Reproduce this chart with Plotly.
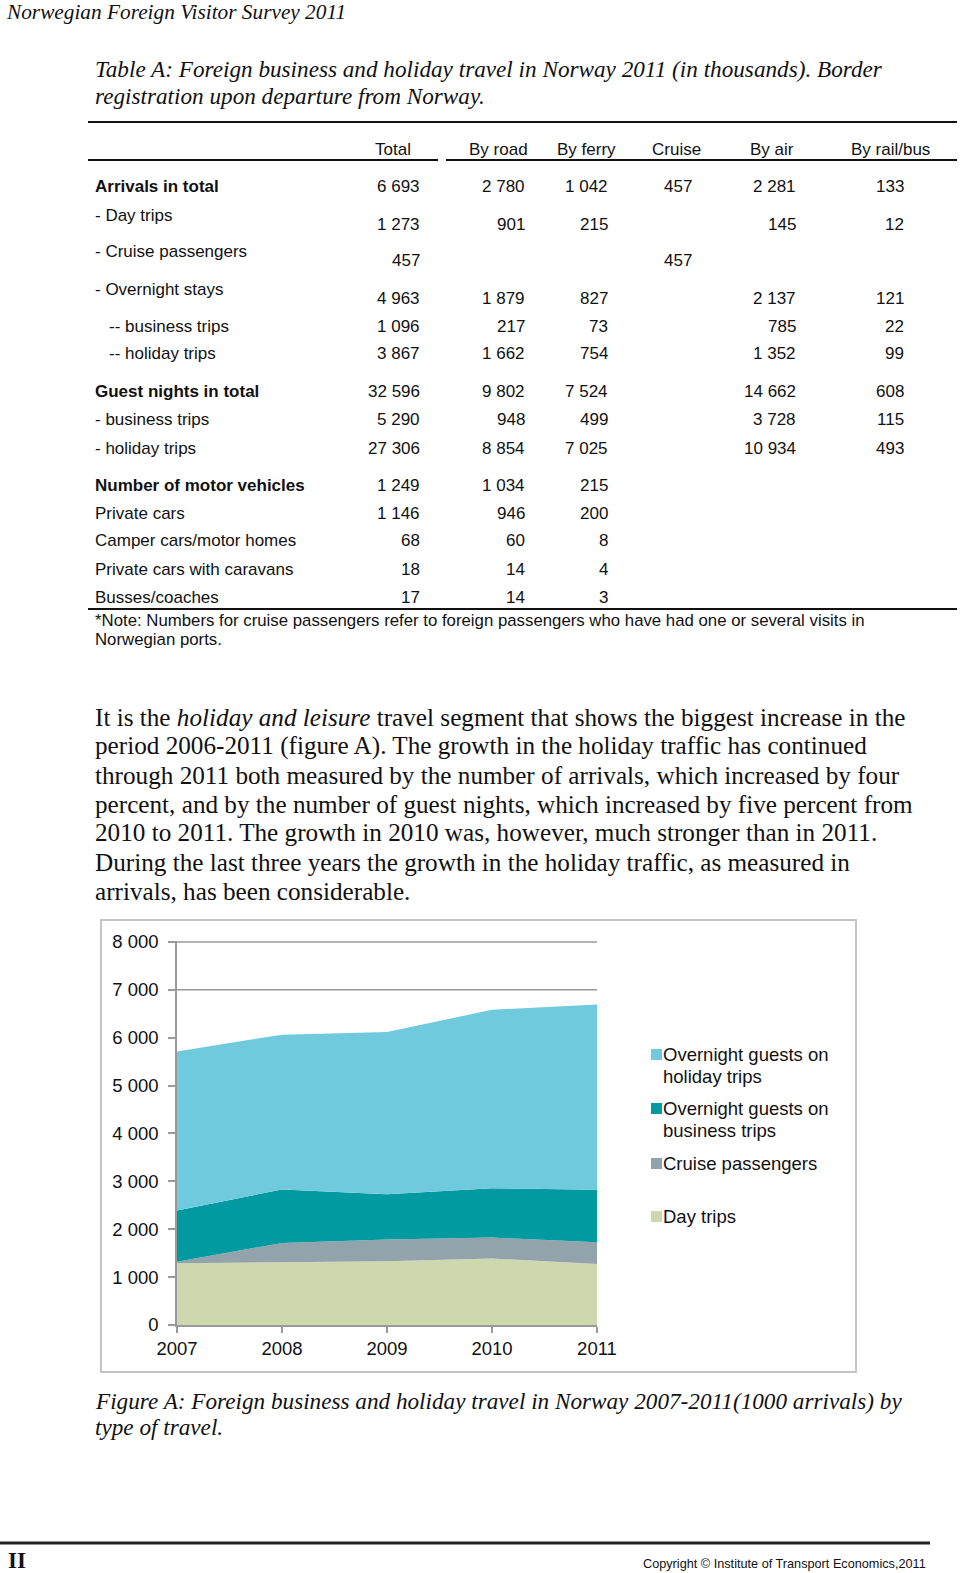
import plotly.graph_objects as go

W, H = 960, 1573

# ---------------- data ----------------
years = [2007, 2008, 2009, 2010, 2011]
day_trips = [1290, 1310, 1330, 1390, 1273]
cruise_passengers = [30, 405, 455, 435, 457]
business_trips = [1070, 1115, 948, 1031, 1096]
holiday_trips = [3324, 3234, 3386, 3728, 3867]
series_labels = ["Day trips", "Cruise passengers",
                 "Overnight guests on<br>business trips",
                 "Overnight guests on<br>holiday trips"]
visible_gridlines = [7000, 8000]

col_headers = ["Total", "By road", "By ferry", "Cruise", "By air", "By rail/bus"]
row_labels = ["Arrivals in total", "- Day trips", "- Cruise passengers", "- Overnight stays",
              "-- business trips", "-- holiday trips", "Guest nights in total",
              "- business trips", "- holiday trips", "Number of motor vehicles",
              "Private cars", "Camper cars/motor homes", "Private cars with caravans",
              "Busses/coaches"]
col_total = [6693, 1273, 457, 4963, 1096, 3867, 32596, 5290, 27306, 1249, 1146, 68, 18, 17]
col_road = [2780, 901, None, 1879, 217, 1662, 9802, 948, 8854, 1034, 946, 60, 14, 14]
col_ferry = [1042, 215, None, 827, 73, 754, 7524, 499, 7025, 215, 200, 8, 4, 3]
col_cruise = [457, None, 457, None, None, None, None, None, None, None, None, None, None, None]
col_air = [2281, 145, None, 2137, 785, 1352, 14662, 3728, 10934, None, None, None, None, None]
col_rail = [133, 12, None, 121, 22, 99, 608, 115, 493, None, None, None, None, None]
bold_rows = ["Arrivals in total", "Guest nights in total", "Number of motor vehicles"]

page_title = "Norwegian Foreign Visitor Survey 2011"
table_caption = ["Table A: Foreign business and holiday travel in Norway 2011 (in thousands). Border",
                 "registration upon departure from Norway."]
table_note = ["*Note: Numbers for cruise passengers refer to foreign passengers who have had one or several visits in",
              "Norwegian ports."]
paragraph_lines = [
    "It is the <i>holiday and leisure</i> travel segment that shows the biggest increase in the",
    "period 2006-2011 (figure A). The growth in the holiday traffic has continued",
    "through 2011 both measured by the number of arrivals, which increased by four",
    "percent, and by the number of guest nights, which increased by five percent from",
    "2010 to 2011. The growth in 2010 was, however, much stronger than in 2011.",
    "During the last three years the growth in the holiday traffic, as measured in",
    "arrivals, has been considerable.",
]
figure_caption = ["Figure A: Foreign business and holiday travel in Norway 2007-2011(1000 arrivals) by",
                  "type of travel."]
footer_left = "II"
footer_right = "Copyright © Institute of Transport Economics,2011"

# ---------------- helpers ----------------
SERIF = "Liberation Serif, Times New Roman, serif"
SANS = "Liberation Sans, Arial, sans-serif"
TABLE_SIZE = 17


def px(x, y):
    return x / W, 1 - y / H


def fmt(v):
    if v is None:
        return ""
    return f"{v:,}".replace(",", " ")


fig = go.Figure()


def text(x, y, s, size, family, anchor="left", color="#111111"):
    xx, yy = px(x, y)
    fig.add_annotation(x=xx, y=yy, xref="paper", yref="paper", text=s, showarrow=False,
                       xanchor=anchor, yanchor="middle",
                       font=dict(size=size, family=family, color=color))


def hline(x0, x1, y, width=2, color="#111111"):
    a, b = px(x0, y)
    c, _ = px(x1, y)
    fig.add_shape(type="line", xref="paper", yref="paper", x0=a, x1=c, y0=b, y1=b,
                  line=dict(color=color, width=width))


# ---------------- page header / table ----------------
text(4, 12, "<i>" + page_title + "</i>", 21.3, SERIF)
for i, line in enumerate(table_caption):
    text(93, 69 + 27 * i, "<i>" + line + "</i>", 23.2, SERIF)

hline(88, 957, 122, 2)
header_x = [393, 498, 586, 676, 772, 890]
for h, xc in zip(col_headers, header_x):
    text(xc, 149, h, TABLE_SIZE, SANS, anchor="center")
hline(88, 438, 160, 2)
hline(446, 957, 160, 2)

label_y = [187, 215, 252, 289, 326, 354, 391, 420, 448, 485, 513, 541, 569, 597]
value_y = [187, 224, 261, 298, 326, 354, 391, 420, 448, 485, 513, 541, 569, 597]
for lab, ly in zip(row_labels, label_y):
    lx = 109 if lab.startswith("--") else 95
    s = "<b>" + lab + "</b>" if lab in bold_rows else lab
    text(lx - 2, ly, s, TABLE_SIZE, SANS)

cols = [col_total, col_road, col_ferry, col_cruise, col_air, col_rail]
right_x = [420, 525, 608, 692, 796, 904]
for col, rx in zip(cols, right_x):
    for v, vy in zip(col, value_y):
        if v is not None:
            text(rx + 2, vy, fmt(v), TABLE_SIZE, SANS, anchor="right")

hline(88, 957, 609, 2)
for i, line in enumerate(table_note):
    text(93, 620 + 19 * i, line, 16.8, SANS)

# ---------------- paragraph ----------------
for i, line in enumerate(paragraph_lines):
    text(93, 717 + 29 * i, line, 25.2, SERIF)

# ---------------- chart ----------------
fill_colors = ["#CDD8AE", "#93A3AB", "#009AA0", "#70CADE"]
for vals, name, c in zip([day_trips, cruise_passengers, business_trips, holiday_trips],
                         series_labels, fill_colors):
    fig.add_trace(go.Scatter(x=years, y=vals, name=name.replace("<br>", " "),
                             stackgroup="one", mode="lines",
                             line=dict(width=0, color=c), fillcolor=c,
                             showlegend=False))

x0d, _ = px(177, 0)
x1d, _ = px(597, 0)
_, ybot = px(0, 1325)
_, ytop = px(0, 941)
GRID = "#9A9A9A"
YMAX = 8020
fig.update_layout(
    xaxis=dict(domain=[x0d, x1d], range=[2007, 2011], tickvals=years, automargin=False,
               showgrid=False, showline=True, linecolor=GRID, linewidth=1.5,
               ticks="outside", ticklen=6, tickcolor=GRID, tickwidth=1.5,
               tickfont=dict(size=18.5, family=SANS, color="#111111"), zeroline=False),
    yaxis=dict(domain=[ybot, ytop], range=[0, YMAX], dtick=1000, tickformat=",d",
               automargin=False, showgrid=False,
               showline=True, linecolor=GRID, linewidth=1.5,
               ticks="outside", ticklen=7, tickcolor=GRID, tickwidth=1.5,
               ticklabelstandoff=6,
               tickfont=dict(size=18.5, family=SANS, color="#111111"), zeroline=False),
)
# the only gridlines visible in the reference (the rest sit behind the areas)
for g in visible_gridlines:
    fig.add_shape(type="line", xref="x domain", yref="y", x0=0, x1=1, y0=g, y1=g,
                  line=dict(color=GRID, width=1.5), layer="below")

# chart frame
a, b = px(101, 920)
c, d = px(856, 1372)
fig.add_shape(type="rect", xref="paper", yref="paper", x0=a, x1=c, y0=d, y1=b,
              line=dict(color="#C4C4C4", width=2), fillcolor="rgba(0,0,0,0)", layer="below")

# manual legend (top to bottom: reverse stack order)
legend_first_y = [1054, 1108, 1163, 1216]
for lab, c, ly in zip(series_labels[::-1], fill_colors[::-1], legend_first_y):
    sx0, sy0 = px(651, ly - 5)
    sx1, sy1 = px(662, ly + 6)
    fig.add_shape(type="rect", xref="paper", yref="paper", x0=sx0, x1=sx1, y0=sy1, y1=sy0,
                  line=dict(width=0), fillcolor=c)
    for j, part in enumerate(lab.split("<br>")):
        text(661, ly + 22 * j, part, 18.5, SANS)

for i, line in enumerate(figure_caption):
    text(93, 1401 + 26 * i, "<i>" + line + "</i>", 23.2, SERIF)

# ---------------- footer ----------------
hline(0, 930, 1543, 3, "#222222")
text(6, 1560, "<b>" + footer_left + "</b>", 23, SERIF)
text(928, 1564, footer_right, 12.7, SANS, anchor="right")

fig.update_layout(width=W, height=H, margin=dict(l=0, r=0, t=0, b=0, autoexpand=False),
                  paper_bgcolor="white", plot_bgcolor="white", separators=", ",
                  showlegend=False, template="none")

fig.write_html("out.html", config={"displayModeBar": False},
               post_script="document.body.style.margin='0';document.body.style.overflow='hidden';")
